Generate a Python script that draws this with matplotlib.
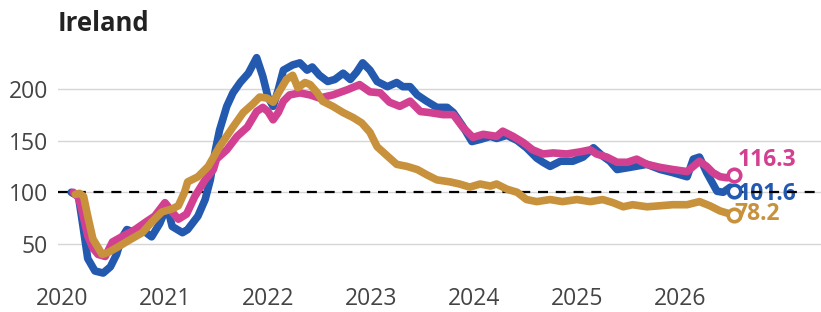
import matplotlib
matplotlib.use("Agg")
import matplotlib.pyplot as plt

plt.rcParams['font.family'] = ['Open Sans', 'DejaVu Sans']

# === Data (index) ===
blue_t = [2020.09, 2020.16, 2020.20, 2020.25, 2020.32, 2020.40, 2020.47, 2020.53, 2020.58, 2020.63,
          2020.71, 2020.79, 2020.87, 2020.95, 2021.02, 2021.07, 2021.17, 2021.22, 2021.32, 2021.39,
          2021.44, 2021.49, 2021.53, 2021.60, 2021.66, 2021.73, 2021.81, 2021.89, 2021.95, 2022.00,
          2022.05, 2022.10, 2022.15, 2022.24, 2022.31, 2022.38, 2022.43, 2022.50, 2022.58, 2022.65,
          2022.73, 2022.80, 2022.86, 2022.92, 2022.99, 2023.06, 2023.16, 2023.25, 2023.31, 2023.38,
          2023.45, 2023.54, 2023.64, 2023.74, 2023.80, 2023.89, 2023.98, 2024.06, 2024.16, 2024.22,
          2024.32, 2024.42, 2024.51, 2024.61, 2024.67, 2024.74, 2024.84, 2024.96, 2025.06, 2025.16,
          2025.25, 2025.32, 2025.39, 2025.51, 2025.68, 2025.81, 2025.93, 2026.07, 2026.13, 2026.19,
          2026.26, 2026.31, 2026.36, 2026.42, 2026.49, 2026.53]
blue_v = [100, 96, 70, 36, 24, 22, 28, 40, 56, 64,
          61, 63, 57, 70, 87, 67, 61, 64, 77, 93,
          112, 141, 160, 183, 196, 206, 215, 230, 212, 192,
          183, 199, 218, 223, 225, 218, 221, 213, 207, 209,
          215, 209, 216, 225, 218, 207, 202, 206, 202, 202,
          194, 188, 182, 182, 177, 164, 149, 151, 154, 152,
          155, 150, 143, 133, 129, 125, 130, 130, 134, 143,
          135, 130, 122, 124, 127, 122, 119, 115, 132, 134,
          119, 110, 101, 100, 105, 101.6]

pink_t = [2020.11, 2020.16, 2020.19, 2020.25, 2020.30, 2020.35, 2020.42, 2020.49, 2020.58, 2020.71,
          2020.81, 2020.90, 2021.00, 2021.07, 2021.13, 2021.21, 2021.29, 2021.39, 2021.47, 2021.50,
          2021.60, 2021.70, 2021.80, 2021.89, 2021.95, 2022.00, 2022.05, 2022.10, 2022.15, 2022.21,
          2022.31, 2022.41, 2022.50, 2022.63, 2022.77, 2022.89, 2022.99, 2023.09, 2023.18, 2023.28,
          2023.38, 2023.48, 2023.57, 2023.70, 2023.80, 2023.89, 2023.99, 2024.09, 2024.22, 2024.28,
          2024.38, 2024.48, 2024.57, 2024.67, 2024.77, 2024.90, 2025.03, 2025.13, 2025.19, 2025.29,
          2025.39, 2025.49, 2025.58, 2025.68, 2025.81, 2025.93, 2026.07, 2026.13, 2026.19, 2026.26,
          2026.32, 2026.39, 2026.46, 2026.53]
pink_v = [100, 95, 84, 58, 46, 40, 38, 52, 57, 64,
          71, 77, 90, 81, 74, 79, 96, 112, 122, 132,
          141, 154, 163, 178, 182, 178, 170, 177, 188, 194,
          196, 194, 191, 194, 199, 204, 197, 196, 187, 183,
          188, 178, 177, 175, 175, 163, 153, 156, 154, 159,
          154, 148, 141, 137, 138, 137, 139, 141, 137, 134,
          129, 129, 132, 127, 124, 122, 120, 125, 130, 125,
          119, 115, 114, 116.3]

gold_t = [2020.13, 2020.17, 2020.21, 2020.25, 2020.30, 2020.39, 2020.45, 2020.54, 2020.64, 2020.78,
          2020.87, 2020.97, 2021.07, 2021.13, 2021.19, 2021.22, 2021.32, 2021.42, 2021.53, 2021.66,
          2021.76, 2021.85, 2021.92, 2021.99, 2022.05, 2022.12, 2022.18, 2022.24, 2022.29, 2022.36,
          2022.41, 2022.48, 2022.53, 2022.63, 2022.73, 2022.83, 2022.91, 2022.99, 2023.06, 2023.16,
          2023.25, 2023.35, 2023.45, 2023.54, 2023.64, 2023.77, 2023.86, 2023.96, 2024.06, 2024.16,
          2024.22, 2024.32, 2024.42, 2024.51, 2024.61, 2024.74, 2024.86, 2025.00, 2025.13, 2025.25,
          2025.35, 2025.45, 2025.54, 2025.68, 2025.81, 2025.93, 2026.07, 2026.19, 2026.29, 2026.39,
          2026.49, 2026.53]
gold_v = [98, 99, 96, 77, 55, 40, 42, 47, 53, 61,
          71, 81, 84, 87, 100, 110, 115, 125, 144, 163,
          177, 185, 192, 191, 187, 199, 209, 213, 201, 206,
          204, 196, 188, 183, 177, 172, 167, 158, 144, 135,
          127, 125, 122, 117, 112, 110, 108, 105, 108, 106,
          108, 103, 100, 93, 91, 93, 91, 93, 91, 93,
          90, 86, 88, 86, 87, 88, 88, 91, 87, 82,
          79, 78.2]

years = [2020, 2021, 2022, 2023, 2024, 2025, 2026]
yticks = [50, 100, 150, 200]

BLUE = "#235AAF"
PINK = "#D24191"
GOLD = "#C8913C"

# === Plot ===
fig = plt.figure(figsize=(8.21, 3.12), dpi=100)
ax = fig.add_axes([0.0706, 0.09, 0.9294, 0.75])

for y in yticks:
    ax.axhline(y, color="#d6d6d6", lw=1.0, zorder=1)
ax.axhline(100, color="black", lw=1.6, ls=(0, (4.5, 3.5)), zorder=3)

series = [(blue_t, blue_v, BLUE), (pink_t, pink_v, PINK), (gold_t, gold_v, GOLD)]
for t, v, c in series:
    ax.plot(t, v, color=c, lw=5.5, solid_joinstyle="round", solid_capstyle="round", zorder=4)
for t, v, c in series:
    ax.plot(t[-1], v[-1], "o", ms=9, mfc="white", mec=c, mew=2.6, zorder=5)

# end labels, sitting just right of the end markers
ax.text(2026.56, 131.5, f"{pink_v[-1]:.1f}", color=PINK, fontsize=16.5,
        fontweight="bold", ha="left", va="center", zorder=2)
ax.text(2026.56, 98.5, f"{blue_v[-1]:.1f}", color=BLUE, fontsize=16.5,
        fontweight="bold", ha="left", va="center", zorder=2)
ax.text(2026.53, 79, f"{gold_v[-1]:.1f}", color=GOLD, fontsize=16.5,
        fontweight="bold", ha="left", va="center", zorder=2)

ax.set_xlim(2019.961, 2027.37)
ax.set_ylim(11.5, 237.5)
ax.set_xticks(years)
ax.set_xticklabels([str(y) for y in years])
ax.set_yticks(yticks)
ax.tick_params(axis="both", length=0, labelsize=16.5, labelcolor="#444444")
ax.tick_params(axis="y", pad=7)
ax.tick_params(axis="x", pad=2)
for s in ax.spines.values():
    s.set_visible(False)

fig.text(0.0706, 0.90, "Ireland", fontsize=18.5, fontweight="bold", color="#222222",
         ha="left", va="baseline")

fig.savefig("out.png", dpi=100)
